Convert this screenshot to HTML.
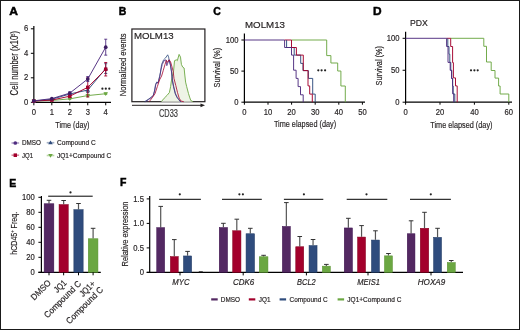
<!DOCTYPE html>
<html><head><meta charset="utf-8"><style>
html,body{margin:0;padding:0;background:#fff;}
.wrap{position:relative;width:520px;height:330px;overflow:hidden;box-sizing:border-box;border:1px solid #1a1a1a;background:#fff;}
svg{position:absolute;left:-1px;top:-1px;will-change:transform;}
text{font-family:"Liberation Sans", sans-serif;stroke:#231f20;stroke-width:0.18px;paint-order:stroke;}
</style></head><body><div class="wrap">
<svg width="520" height="330" viewBox="0 0 520 330">
<text x="9.3" y="14.8" font-size="10.5" text-anchor="start" font-weight="bold" font-style="normal" fill="#000" textLength="8.7" lengthAdjust="spacingAndGlyphs" style="stroke:#000;stroke-width:0.45px">A</text>
<text x="118.8" y="15.1" font-size="10.5" text-anchor="start" font-weight="bold" font-style="normal" fill="#000" style="stroke:#000;stroke-width:0.45px">B</text>
<text x="213.2" y="15" font-size="10.5" text-anchor="start" font-weight="bold" font-style="normal" fill="#000" style="stroke:#000;stroke-width:0.45px">C</text>
<text x="373" y="15" font-size="10.5" text-anchor="start" font-weight="bold" font-style="normal" fill="#000" textLength="8.6" lengthAdjust="spacingAndGlyphs" style="stroke:#000;stroke-width:0.45px">D</text>
<text x="9.3" y="186.8" font-size="10.5" text-anchor="start" font-weight="bold" font-style="normal" fill="#000" style="stroke:#000;stroke-width:0.45px">E</text>
<text x="120" y="185.5" font-size="10.5" text-anchor="start" font-weight="bold" font-style="normal" fill="#000" style="stroke:#000;stroke-width:0.45px">F</text>
<line x1="33.85" y1="26" x2="33.85" y2="102.8" stroke="#000" stroke-width="1.2"/>
<line x1="33.25" y1="102.3" x2="111" y2="102.3" stroke="#000" stroke-width="1.2"/>
<line x1="30.85" y1="102.3" x2="33.85" y2="102.3" stroke="#000" stroke-width="1"/>
<text x="28.2" y="104.8" font-size="8.6" text-anchor="end" font-weight="normal" font-style="normal" fill="#231f20" textLength="4.26" lengthAdjust="spacingAndGlyphs" >0</text>
<line x1="30.85" y1="77.8" x2="33.85" y2="77.8" stroke="#000" stroke-width="1"/>
<text x="28.2" y="80.3" font-size="8.6" text-anchor="end" font-weight="normal" font-style="normal" fill="#231f20" textLength="4.26" lengthAdjust="spacingAndGlyphs" >2</text>
<line x1="30.85" y1="53.3" x2="33.85" y2="53.3" stroke="#000" stroke-width="1"/>
<text x="28.2" y="55.8" font-size="8.6" text-anchor="end" font-weight="normal" font-style="normal" fill="#231f20" textLength="4.26" lengthAdjust="spacingAndGlyphs" >4</text>
<line x1="30.85" y1="28.799999999999997" x2="33.85" y2="28.799999999999997" stroke="#000" stroke-width="1"/>
<text x="28.2" y="31.299999999999997" font-size="8.6" text-anchor="end" font-weight="normal" font-style="normal" fill="#231f20" textLength="4.26" lengthAdjust="spacingAndGlyphs" >6</text>
<line x1="33.85" y1="102.3" x2="33.85" y2="105.3" stroke="#000" stroke-width="1"/>
<text x="33.85" y="115.1" font-size="8.6" text-anchor="middle" font-weight="normal" font-style="normal" fill="#231f20" textLength="4.26" lengthAdjust="spacingAndGlyphs" >0</text>
<line x1="51.82" y1="102.3" x2="51.82" y2="105.3" stroke="#000" stroke-width="1"/>
<text x="51.82" y="115.1" font-size="8.6" text-anchor="middle" font-weight="normal" font-style="normal" fill="#231f20" textLength="4.26" lengthAdjust="spacingAndGlyphs" >1</text>
<line x1="69.78999999999999" y1="102.3" x2="69.78999999999999" y2="105.3" stroke="#000" stroke-width="1"/>
<text x="69.78999999999999" y="115.1" font-size="8.6" text-anchor="middle" font-weight="normal" font-style="normal" fill="#231f20" textLength="4.26" lengthAdjust="spacingAndGlyphs" >2</text>
<line x1="87.75999999999999" y1="102.3" x2="87.75999999999999" y2="105.3" stroke="#000" stroke-width="1"/>
<text x="87.75999999999999" y="115.1" font-size="8.6" text-anchor="middle" font-weight="normal" font-style="normal" fill="#231f20" textLength="4.26" lengthAdjust="spacingAndGlyphs" >3</text>
<line x1="105.72999999999999" y1="102.3" x2="105.72999999999999" y2="105.3" stroke="#000" stroke-width="1"/>
<text x="105.72999999999999" y="115.1" font-size="8.6" text-anchor="middle" font-weight="normal" font-style="normal" fill="#231f20" textLength="4.26" lengthAdjust="spacingAndGlyphs" >4</text>
<text x="72.4" y="128.1" font-size="9.9" text-anchor="middle" font-weight="normal" font-style="normal" fill="#231f20" textLength="34.2" lengthAdjust="spacingAndGlyphs" >Time (day)</text>
<text transform="translate(18.1,63.2) rotate(-90)" font-size="10" text-anchor="middle" fill="#231f20" textLength="64.5" lengthAdjust="spacingAndGlyphs">Cell number (x10<tspan font-size="5" dy="-3">5</tspan><tspan dy="3">)</tspan></text>
<polyline points="33.85,101.075 51.82,100.46249999999999 69.78999999999999,98.86999999999999 87.75999999999999,95.5625 105.72999999999999,93.725" stroke="#6ba742" stroke-width="0.95" fill="none" stroke-linejoin="miter"/>
<polygon points="33.85,103.275 31.55,99.47500000000001 36.15,99.47500000000001" fill="#6ba742"/>
<polygon points="51.82,102.6625 49.52,98.8625 54.12,98.8625" fill="#6ba742"/>
<line x1="69.78999999999999" y1="98.2575" x2="69.78999999999999" y2="99.48249999999999" stroke="#6ba742" stroke-width="0.9"/>
<line x1="68.28999999999999" y1="98.2575" x2="71.28999999999999" y2="98.2575" stroke="#6ba742" stroke-width="0.9"/>
<line x1="68.28999999999999" y1="99.48249999999999" x2="71.28999999999999" y2="99.48249999999999" stroke="#6ba742" stroke-width="0.9"/>
<polygon points="69.78999999999999,101.07 67.49,97.27 72.08999999999999,97.27" fill="#6ba742"/>
<line x1="87.75999999999999" y1="94.3375" x2="87.75999999999999" y2="96.7875" stroke="#6ba742" stroke-width="0.9"/>
<line x1="86.25999999999999" y1="94.3375" x2="89.25999999999999" y2="94.3375" stroke="#6ba742" stroke-width="0.9"/>
<line x1="86.25999999999999" y1="96.7875" x2="89.25999999999999" y2="96.7875" stroke="#6ba742" stroke-width="0.9"/>
<polygon points="87.75999999999999,97.7625 85.46,93.9625 90.05999999999999,93.9625" fill="#6ba742"/>
<line x1="105.72999999999999" y1="93.1125" x2="105.72999999999999" y2="94.33749999999999" stroke="#6ba742" stroke-width="0.9"/>
<line x1="104.22999999999999" y1="93.1125" x2="107.22999999999999" y2="93.1125" stroke="#6ba742" stroke-width="0.9"/>
<line x1="104.22999999999999" y1="94.33749999999999" x2="107.22999999999999" y2="94.33749999999999" stroke="#6ba742" stroke-width="0.9"/>
<polygon points="105.72999999999999,95.925 103.42999999999999,92.125 108.02999999999999,92.125" fill="#6ba742"/>
<polyline points="33.85,101.075 51.82,99.2375 69.78999999999999,93.97 87.75999999999999,90.05 105.72999999999999,68.6125" stroke="#2f4c7d" stroke-width="0.95" fill="none" stroke-linejoin="miter"/>
<polygon points="33.85,98.875 31.55,102.675 36.15,102.675" fill="#2f4c7d"/>
<polygon points="51.82,97.0375 49.52,100.83749999999999 54.12,100.83749999999999" fill="#2f4c7d"/>
<line x1="69.78999999999999" y1="93.3575" x2="69.78999999999999" y2="94.5825" stroke="#2f4c7d" stroke-width="0.9"/>
<line x1="68.28999999999999" y1="93.3575" x2="71.28999999999999" y2="93.3575" stroke="#2f4c7d" stroke-width="0.9"/>
<line x1="68.28999999999999" y1="94.5825" x2="71.28999999999999" y2="94.5825" stroke="#2f4c7d" stroke-width="0.9"/>
<polygon points="69.78999999999999,91.77 67.49,95.57 72.08999999999999,95.57" fill="#2f4c7d"/>
<line x1="87.75999999999999" y1="87.6" x2="87.75999999999999" y2="92.5" stroke="#2f4c7d" stroke-width="0.9"/>
<line x1="86.25999999999999" y1="87.6" x2="89.25999999999999" y2="87.6" stroke="#2f4c7d" stroke-width="0.9"/>
<line x1="86.25999999999999" y1="92.5" x2="89.25999999999999" y2="92.5" stroke="#2f4c7d" stroke-width="0.9"/>
<polygon points="87.75999999999999,87.85 85.46,91.64999999999999 90.05999999999999,91.64999999999999" fill="#2f4c7d"/>
<line x1="105.72999999999999" y1="63.7125" x2="105.72999999999999" y2="73.5125" stroke="#2f4c7d" stroke-width="0.9"/>
<line x1="104.22999999999999" y1="63.7125" x2="107.22999999999999" y2="63.7125" stroke="#2f4c7d" stroke-width="0.9"/>
<line x1="104.22999999999999" y1="73.5125" x2="107.22999999999999" y2="73.5125" stroke="#2f4c7d" stroke-width="0.9"/>
<polygon points="105.72999999999999,66.4125 103.42999999999999,70.21249999999999 108.02999999999999,70.21249999999999" fill="#2f4c7d"/>
<polyline points="33.85,101.075 51.82,100.095 69.78999999999999,96.175 87.75999999999999,87.35499999999999 105.72999999999999,69.225" stroke="#a3002c" stroke-width="0.95" fill="none" stroke-linejoin="miter"/>
<rect x="32.1" y="99.325" width="3.5" height="3.5" fill="#a3002c"/>
<rect x="50.07" y="98.345" width="3.5" height="3.5" fill="#a3002c"/>
<line x1="69.78999999999999" y1="94.705" x2="69.78999999999999" y2="97.645" stroke="#a3002c" stroke-width="0.9"/>
<line x1="68.28999999999999" y1="94.705" x2="71.28999999999999" y2="94.705" stroke="#a3002c" stroke-width="0.9"/>
<line x1="68.28999999999999" y1="97.645" x2="71.28999999999999" y2="97.645" stroke="#a3002c" stroke-width="0.9"/>
<rect x="68.03999999999999" y="94.425" width="3.5" height="3.5" fill="#a3002c"/>
<line x1="87.75999999999999" y1="77.79999999999998" x2="87.75999999999999" y2="96.91" stroke="#a3002c" stroke-width="0.9"/>
<line x1="86.25999999999999" y1="77.79999999999998" x2="89.25999999999999" y2="77.79999999999998" stroke="#a3002c" stroke-width="0.9"/>
<line x1="86.25999999999999" y1="96.91" x2="89.25999999999999" y2="96.91" stroke="#a3002c" stroke-width="0.9"/>
<rect x="86.00999999999999" y="85.60499999999999" width="3.5" height="3.5" fill="#a3002c"/>
<line x1="105.72999999999999" y1="62.4875" x2="105.72999999999999" y2="75.96249999999999" stroke="#a3002c" stroke-width="0.9"/>
<line x1="104.22999999999999" y1="62.4875" x2="107.22999999999999" y2="62.4875" stroke="#a3002c" stroke-width="0.9"/>
<line x1="104.22999999999999" y1="75.96249999999999" x2="107.22999999999999" y2="75.96249999999999" stroke="#a3002c" stroke-width="0.9"/>
<rect x="103.97999999999999" y="67.475" width="3.5" height="3.5" fill="#a3002c"/>
<polyline points="33.85,100.83 51.82,98.625 69.78999999999999,93.1125 87.75999999999999,79.025 105.72999999999999,47.175" stroke="#4f2c80" stroke-width="0.95" fill="none" stroke-linejoin="miter"/>
<circle cx="33.85" cy="100.83" r="1.85" fill="#3d1c63"/>
<circle cx="51.82" cy="98.625" r="1.85" fill="#3d1c63"/>
<line x1="69.78999999999999" y1="91.8875" x2="69.78999999999999" y2="94.33749999999999" stroke="#4f2c80" stroke-width="0.9"/>
<line x1="68.28999999999999" y1="91.8875" x2="71.28999999999999" y2="91.8875" stroke="#4f2c80" stroke-width="0.9"/>
<line x1="68.28999999999999" y1="94.33749999999999" x2="71.28999999999999" y2="94.33749999999999" stroke="#4f2c80" stroke-width="0.9"/>
<circle cx="69.78999999999999" cy="93.1125" r="1.85" fill="#3d1c63"/>
<line x1="87.75999999999999" y1="76.575" x2="87.75999999999999" y2="81.47500000000001" stroke="#4f2c80" stroke-width="0.9"/>
<line x1="86.25999999999999" y1="76.575" x2="89.25999999999999" y2="76.575" stroke="#4f2c80" stroke-width="0.9"/>
<line x1="86.25999999999999" y1="81.47500000000001" x2="89.25999999999999" y2="81.47500000000001" stroke="#4f2c80" stroke-width="0.9"/>
<circle cx="87.75999999999999" cy="79.025" r="1.85" fill="#3d1c63"/>
<line x1="105.72999999999999" y1="39.2125" x2="105.72999999999999" y2="55.137499999999996" stroke="#4f2c80" stroke-width="0.9"/>
<line x1="104.22999999999999" y1="39.2125" x2="107.22999999999999" y2="39.2125" stroke="#4f2c80" stroke-width="0.9"/>
<line x1="104.22999999999999" y1="55.137499999999996" x2="107.22999999999999" y2="55.137499999999996" stroke="#4f2c80" stroke-width="0.9"/>
<circle cx="105.72999999999999" cy="47.175" r="1.85" fill="#3d1c63"/>
<circle cx="102.4" cy="88.7" r="1.1" fill="#222"/>
<circle cx="105.8" cy="88.7" r="1.1" fill="#222"/>
<circle cx="109.3" cy="88.7" r="1.1" fill="#222"/>
<line x1="11.5" y1="143" x2="19.1" y2="143" stroke="#4f2c80" stroke-width="1.6" stroke-opacity="0.45"/>
<circle cx="15.3" cy="143" r="1.85" fill="#4f2c80"/>
<text x="22" y="145.2" font-size="7" text-anchor="start" font-weight="normal" font-style="normal" fill="#231f20" textLength="19" lengthAdjust="spacingAndGlyphs" >DMSO</text>
<line x1="46.7" y1="142.7" x2="54.3" y2="142.7" stroke="#2f4c7d" stroke-width="1.6" stroke-opacity="0.45"/>
<polygon points="50.5,140.5 48.2,144.29999999999998 52.8,144.29999999999998" fill="#2f4c7d"/>
<text x="57" y="145.2" font-size="7" text-anchor="start" font-weight="normal" font-style="normal" fill="#231f20" textLength="38.7" lengthAdjust="spacingAndGlyphs" >Compound C</text>
<line x1="11.5" y1="155.2" x2="19.1" y2="155.2" stroke="#a3002c" stroke-width="1.6" stroke-opacity="0.45"/>
<rect x="13.600000000000001" y="153.39999999999998" width="3.4" height="3.6" fill="#a3002c"/>
<text x="22" y="158" font-size="7" text-anchor="start" font-weight="normal" font-style="normal" fill="#231f20" textLength="11" lengthAdjust="spacingAndGlyphs" >JQ1</text>
<line x1="46.7" y1="155.5" x2="54.3" y2="155.5" stroke="#6ba742" stroke-width="1.6" stroke-opacity="0.45"/>
<polygon points="50.5,157.7 48.2,153.9 52.8,153.9" fill="#6ba742"/>
<text x="57" y="158" font-size="7" text-anchor="start" font-weight="normal" font-style="normal" fill="#231f20" textLength="54.2" lengthAdjust="spacingAndGlyphs" >JQ1+Compound C</text>
<rect x="131.9" y="29" width="73" height="72.7" fill="none" stroke="#231f20" stroke-width="1.2"/>
<text x="133.9" y="39.1" font-size="9.8" text-anchor="start" font-weight="normal" font-style="normal" fill="#231f20" textLength="39.8" lengthAdjust="spacingAndGlyphs" >MOLM13</text>
<line x1="132" y1="105.3" x2="202" y2="105.3" stroke="#231f20" stroke-width="1"/>
<polygon points="205,105.3 200.5,103.4 200.5,107.2" fill="#231f20"/>
<text x="168.5" y="116.5" font-size="10.4" text-anchor="middle" font-weight="normal" font-style="normal" fill="#3a3a3a" textLength="19" lengthAdjust="spacingAndGlyphs" >CD33</text>
<text transform="translate(126.3,64.85) rotate(-90)" font-size="8.9" text-anchor="middle" fill="#231f20" textLength="62.8" lengthAdjust="spacingAndGlyphs">Normalized events</text>
<polygon points="161.3,101.7 164.2,98.2 167.1,95.3 169.4,92.5 170.6,86.7 171.4,80.9 172.3,76.3 173.6,70.7 174.5,60.7 176.4,59.8 177.3,60.7 179.1,54.4 180.5,57.1 181.4,64.4 182.7,67.1 184.1,68 184.8,75 185.6,82.1 186.7,86.7 188.5,93.6 189.6,97.1 190.8,100.5 193.1,101.7" fill="#eef4e6" stroke="none"/>
<polyline points="161.3,101.7 164.2,98.2 167.1,95.3 169.4,92.5 170.6,86.7 171.4,80.9 172.3,76.3 173.6,70.7 174.5,60.7 176.4,59.8 177.3,60.7 179.1,54.4 180.5,57.1 181.4,64.4 182.7,67.1 184.1,68 184.8,75 185.6,82.1 186.7,86.7 188.5,93.6 189.6,97.1 190.8,100.5 193.1,101.7" stroke="#6ba742" stroke-width="0.9" fill="none" stroke-linejoin="miter"/>
<polyline points="144.6,101.7 148.1,99.4 151.5,97.1 153.3,95.3 154.4,91.3 155.6,84.4 156.7,82.1 157.9,82.7 158.5,80.9 159.6,76.3 160.5,72 161.6,64.4 163.6,59.8 165.5,58 167.7,54.8 168.6,57.1 169.1,59.8 170.5,65.3 171.5,72 172.3,80.9 173.5,86.7 175.2,93.6 176.9,97.1 178.7,99.4 179.8,101.1 181,101.7" stroke="#2f4c7d" stroke-width="0.8" fill="none" stroke-linejoin="miter"/>
<polyline points="145.5,101.7 148.5,99.6 151.5,97.4 153.5,95 154.8,90 155.8,84.5 156.9,82.4 158,83.2 158.8,80.5 160,75.5 160.9,70 162.3,64.4 164.1,60.7 165.9,59.8 166.8,65.7 168,62.5 169.1,59.8 170.2,64 171.4,70.7 172.5,80 173.8,87 175.5,93.8 177.2,97.5 179,99.8 180.5,101.7" stroke="#4f2c80" stroke-width="0.8" fill="none" stroke-linejoin="miter"/>
<polyline points="149.2,101.7 152.7,97.1 155,93.6 157.3,86.7 159.6,79.8 161.6,76 163.2,70.7 165,64.4 166.4,60.3 167.3,62.5 169.1,59.8 170.5,61.6 171.8,66.2 173.2,71.6 174,78.6 175.8,85.5 177.5,92.5 179.2,98.2 181,101.1 183.8,101.7" stroke="#a3002c" stroke-width="0.8" fill="none" stroke-linejoin="miter"/>
<line x1="244.4" y1="33.6" x2="244.4" y2="102.8" stroke="#000" stroke-width="1.2"/>
<line x1="243.8" y1="102.2" x2="365" y2="102.2" stroke="#000" stroke-width="1.2"/>
<line x1="241.4" y1="102.2" x2="244.4" y2="102.2" stroke="#000" stroke-width="1"/>
<text x="238.5" y="104.8" font-size="8.6" text-anchor="end" font-weight="normal" font-style="normal" fill="#231f20" textLength="4.26" lengthAdjust="spacingAndGlyphs" >0</text>
<line x1="241.4" y1="71.1" x2="244.4" y2="71.1" stroke="#000" stroke-width="1"/>
<text x="238.5" y="73.69999999999999" font-size="8.6" text-anchor="end" font-weight="normal" font-style="normal" fill="#231f20" textLength="8.51" lengthAdjust="spacingAndGlyphs" >50</text>
<line x1="241.4" y1="40.0" x2="244.4" y2="40.0" stroke="#000" stroke-width="1"/>
<text x="238.5" y="42.6" font-size="8.6" text-anchor="end" font-weight="normal" font-style="normal" fill="#231f20" textLength="12.77" lengthAdjust="spacingAndGlyphs" >100</text>
<line x1="244.4" y1="102.2" x2="244.4" y2="104.7" stroke="#000" stroke-width="1"/>
<text x="244.4" y="114.7" font-size="8.6" text-anchor="middle" font-weight="normal" font-style="normal" fill="#231f20" textLength="4.26" lengthAdjust="spacingAndGlyphs" >0</text>
<line x1="268.0" y1="102.2" x2="268.0" y2="104.7" stroke="#000" stroke-width="1"/>
<text x="268.0" y="114.7" font-size="8.6" text-anchor="middle" font-weight="normal" font-style="normal" fill="#231f20" textLength="8.51" lengthAdjust="spacingAndGlyphs" >10</text>
<line x1="291.6" y1="102.2" x2="291.6" y2="104.7" stroke="#000" stroke-width="1"/>
<text x="291.6" y="114.7" font-size="8.6" text-anchor="middle" font-weight="normal" font-style="normal" fill="#231f20" textLength="8.51" lengthAdjust="spacingAndGlyphs" >20</text>
<line x1="315.2" y1="102.2" x2="315.2" y2="104.7" stroke="#000" stroke-width="1"/>
<text x="315.2" y="114.7" font-size="8.6" text-anchor="middle" font-weight="normal" font-style="normal" fill="#231f20" textLength="8.51" lengthAdjust="spacingAndGlyphs" >30</text>
<line x1="338.8" y1="102.2" x2="338.8" y2="104.7" stroke="#000" stroke-width="1"/>
<text x="338.8" y="114.7" font-size="8.6" text-anchor="middle" font-weight="normal" font-style="normal" fill="#231f20" textLength="8.51" lengthAdjust="spacingAndGlyphs" >40</text>
<line x1="362.4" y1="102.2" x2="362.4" y2="104.7" stroke="#000" stroke-width="1"/>
<text x="362.4" y="114.7" font-size="8.6" text-anchor="middle" font-weight="normal" font-style="normal" fill="#231f20" textLength="8.51" lengthAdjust="spacingAndGlyphs" >50</text>
<text x="305" y="127.1" font-size="9.2" text-anchor="middle" font-weight="normal" font-style="normal" fill="#231f20" textLength="62.2" lengthAdjust="spacingAndGlyphs" >Time elapsed (day)</text>
<text x="245" y="28" font-size="9.8" text-anchor="start" font-weight="normal" font-style="normal" fill="#231f20" textLength="40" lengthAdjust="spacingAndGlyphs" >MOLM13</text>
<text transform="translate(220.1,67.65) rotate(-90)" font-size="9.6" text-anchor="middle" fill="#231f20" textLength="39.7" lengthAdjust="spacingAndGlyphs">Survival (%)</text>
<circle cx="318.3" cy="70.3" r="1.1" fill="#222"/>
<circle cx="321.6" cy="70.3" r="1.1" fill="#222"/>
<circle cx="325.1" cy="70.3" r="1.1" fill="#222"/>
<line x1="244.4" y1="40.0" x2="284.6" y2="40.0" stroke="#4f2c80" stroke-width="0.95"/>
<line x1="284.6" y1="40.0" x2="291.5" y2="40.0" stroke="#a3002c" stroke-width="0.95"/>
<line x1="291.5" y1="40.0" x2="326.7" y2="40.0" stroke="#6ba742" stroke-width="0.95"/>
<polyline points="326.7,40.0 326.7,55.6 330.9,55.6 330.9,63 337.7,63 337.7,71 340.9,71 340.9,86 345.3,86 345.3,102.2" stroke="#6ba742" stroke-width="0.95" fill="none" stroke-linejoin="miter"/>
<polyline points="286.6,40.0 286.6,47.5 294.2,47.5 294.2,55.1 300.7,55.1 300.7,63.4 303,63.4 303,70.6 308.4,70.6 308.4,78.4 312.7,78.4 312.7,94.1 315.2,94.1 315.2,102.2" stroke="#2f4c7d" stroke-width="0.95" fill="none" stroke-linejoin="miter"/>
<polyline points="291.5,40.0 291.5,47.5 296.4,47.5 296.4,55.1 303.3,55.1 303.3,70.6 308,70.6 308,85.9 309.7,85.9 309.7,94.1 312.3,94.1 312.3,102.2" stroke="#a3002c" stroke-width="0.95" fill="none" stroke-linejoin="miter"/>
<polyline points="284.6,40.0 284.6,47.5 291.5,47.5 291.5,55.1 293.6,55.1 293.6,70.2 296.1,70.2 296.1,78.4 298.1,78.4 298.1,86.6 300.5,86.6 300.5,94.8 303.2,94.8 303.2,102.2" stroke="#4f2c80" stroke-width="0.95" fill="none" stroke-linejoin="miter"/>
<line x1="405.6" y1="31.8" x2="405.6" y2="102.8" stroke="#000" stroke-width="1.2"/>
<line x1="405.0" y1="102.2" x2="512" y2="102.2" stroke="#000" stroke-width="1.2"/>
<line x1="402.6" y1="102.2" x2="405.6" y2="102.2" stroke="#000" stroke-width="1"/>
<text x="399.6" y="104.60000000000001" font-size="8.6" text-anchor="end" font-weight="normal" font-style="normal" fill="#231f20" textLength="4.26" lengthAdjust="spacingAndGlyphs" >0</text>
<line x1="402.6" y1="70.25" x2="405.6" y2="70.25" stroke="#000" stroke-width="1"/>
<text x="399.6" y="72.65" font-size="8.6" text-anchor="end" font-weight="normal" font-style="normal" fill="#231f20" textLength="8.51" lengthAdjust="spacingAndGlyphs" >50</text>
<line x1="402.6" y1="38.3" x2="405.6" y2="38.3" stroke="#000" stroke-width="1"/>
<text x="399.6" y="40.699999999999996" font-size="8.6" text-anchor="end" font-weight="normal" font-style="normal" fill="#231f20" textLength="12.77" lengthAdjust="spacingAndGlyphs" >100</text>
<line x1="405.6" y1="102.2" x2="405.6" y2="104.7" stroke="#000" stroke-width="1"/>
<text x="405.6" y="114.7" font-size="8.6" text-anchor="middle" font-weight="normal" font-style="normal" fill="#231f20" textLength="4.26" lengthAdjust="spacingAndGlyphs" >0</text>
<line x1="440.0" y1="102.2" x2="440.0" y2="104.7" stroke="#000" stroke-width="1"/>
<text x="440.0" y="114.7" font-size="8.6" text-anchor="middle" font-weight="normal" font-style="normal" fill="#231f20" textLength="8.51" lengthAdjust="spacingAndGlyphs" >20</text>
<line x1="474.40000000000003" y1="102.2" x2="474.40000000000003" y2="104.7" stroke="#000" stroke-width="1"/>
<text x="474.40000000000003" y="114.7" font-size="8.6" text-anchor="middle" font-weight="normal" font-style="normal" fill="#231f20" textLength="8.51" lengthAdjust="spacingAndGlyphs" >40</text>
<line x1="508.8" y1="102.2" x2="508.8" y2="104.7" stroke="#000" stroke-width="1"/>
<text x="508.8" y="114.7" font-size="8.6" text-anchor="middle" font-weight="normal" font-style="normal" fill="#231f20" textLength="8.51" lengthAdjust="spacingAndGlyphs" >60</text>
<text x="461.4" y="128" font-size="9.2" text-anchor="middle" font-weight="normal" font-style="normal" fill="#231f20" textLength="62.2" lengthAdjust="spacingAndGlyphs" >Time elapsed (day)</text>
<text x="409.9" y="26" font-size="9.8" text-anchor="start" font-weight="normal" font-style="normal" fill="#231f20" textLength="17.9" lengthAdjust="spacingAndGlyphs" >PDX</text>
<text transform="translate(382,65.8) rotate(-90)" font-size="9.6" text-anchor="middle" fill="#231f20" textLength="39.4" lengthAdjust="spacingAndGlyphs">Survival (%)</text>
<circle cx="471" cy="70.3" r="1.1" fill="#222"/>
<circle cx="474.4" cy="70.3" r="1.1" fill="#222"/>
<circle cx="477.7" cy="70.3" r="1.1" fill="#222"/>
<line x1="405.6" y1="38.3" x2="446.6" y2="38.3" stroke="#4f2c80" stroke-width="0.95"/>
<line x1="446.6" y1="38.3" x2="450.7" y2="38.3" stroke="#a3002c" stroke-width="0.95"/>
<line x1="450.7" y1="38.3" x2="483.8" y2="38.3" stroke="#6ba742" stroke-width="0.95"/>
<polyline points="483.8,38.3 483.8,46.3 486.5,46.3 486.5,62 491.2,62 491.2,70.5 495,70.5 495,78.1 498.6,78.1 498.6,86 500.1,86 500.1,94 508.8,94 508.8,102.2" stroke="#6ba742" stroke-width="0.95" fill="none" stroke-linejoin="miter"/>
<polyline points="447.8,38.3 447.8,46.5 449,46.5 449,54.2 449.8,54.2 449.8,62.4 450.8,62.4 450.8,70.3 451.8,70.3 451.8,78.5 452.5,78.5 452.5,86 453.2,86 453.2,94 454.8,94 454.8,102.2" stroke="#2f4c7d" stroke-width="0.95" fill="none" stroke-linejoin="miter"/>
<polyline points="450.7,38.3 450.7,46.5 452.6,46.5 452.6,62.6 453.4,62.6 453.4,77.9 455.5,77.9 455.5,85.9 457.2,85.9 457.2,102.2" stroke="#a3002c" stroke-width="0.95" fill="none" stroke-linejoin="miter"/>
<polyline points="446.6,38.3 446.6,46.5 448,46.5 448,62.4 450.2,62.4 450.2,70.3 451.5,70.3 451.5,78.5 452.7,78.5 452.7,93.8 453.7,93.8 453.7,102.2" stroke="#4f2c80" stroke-width="0.95" fill="none" stroke-linejoin="miter"/>
<line x1="41.4" y1="196" x2="41.4" y2="272.90000000000003" stroke="#000" stroke-width="1.2"/>
<line x1="38.4" y1="272.3" x2="100.8" y2="272.3" stroke="#000" stroke-width="1.2"/>
<line x1="38.4" y1="272.3" x2="41.4" y2="272.3" stroke="#000" stroke-width="1"/>
<text x="34.8" y="275.2" font-size="8.6" text-anchor="end" font-weight="normal" font-style="normal" fill="#231f20" textLength="4.26" lengthAdjust="spacingAndGlyphs" >0</text>
<line x1="38.4" y1="257.3" x2="41.4" y2="257.3" stroke="#000" stroke-width="1"/>
<text x="34.8" y="260.2" font-size="8.6" text-anchor="end" font-weight="normal" font-style="normal" fill="#231f20" textLength="8.51" lengthAdjust="spacingAndGlyphs" >20</text>
<line x1="38.4" y1="242.3" x2="41.4" y2="242.3" stroke="#000" stroke-width="1"/>
<text x="34.8" y="245.20000000000002" font-size="8.6" text-anchor="end" font-weight="normal" font-style="normal" fill="#231f20" textLength="8.51" lengthAdjust="spacingAndGlyphs" >40</text>
<line x1="38.4" y1="227.3" x2="41.4" y2="227.3" stroke="#000" stroke-width="1"/>
<text x="34.8" y="230.20000000000002" font-size="8.6" text-anchor="end" font-weight="normal" font-style="normal" fill="#231f20" textLength="8.51" lengthAdjust="spacingAndGlyphs" >60</text>
<line x1="38.4" y1="212.3" x2="41.4" y2="212.3" stroke="#000" stroke-width="1"/>
<text x="34.8" y="215.20000000000002" font-size="8.6" text-anchor="end" font-weight="normal" font-style="normal" fill="#231f20" textLength="8.51" lengthAdjust="spacingAndGlyphs" >80</text>
<line x1="38.4" y1="197.3" x2="41.4" y2="197.3" stroke="#000" stroke-width="1"/>
<text x="34.8" y="200.20000000000002" font-size="8.6" text-anchor="end" font-weight="normal" font-style="normal" fill="#231f20" textLength="12.77" lengthAdjust="spacingAndGlyphs" >100</text>
<line x1="49.0" y1="200.3" x2="49.0" y2="203.5" stroke="#555" stroke-width="1.2"/>
<line x1="46.7" y1="200.3" x2="51.3" y2="200.3" stroke="#333" stroke-width="1"/>
<rect x="44.15" y="203.75" width="9.700000000000003" height="68.55000000000001" fill="#532862" stroke="#3a0e4c" stroke-width="0.5"/>
<line x1="49.0" y1="272.3" x2="49.0" y2="275.3" stroke="#000" stroke-width="1"/>
<line x1="63.65" y1="200.5" x2="63.65" y2="204.3" stroke="#555" stroke-width="1.2"/>
<line x1="61.35" y1="200.5" x2="65.95" y2="200.5" stroke="#333" stroke-width="1"/>
<rect x="59.05" y="204.55" width="9.200000000000003" height="67.75" fill="#a3002c" stroke="#85001f" stroke-width="0.5"/>
<line x1="63.65" y1="272.3" x2="63.65" y2="275.3" stroke="#000" stroke-width="1"/>
<line x1="78.5" y1="203.5" x2="78.5" y2="209.4" stroke="#555" stroke-width="1.2"/>
<line x1="76.2" y1="203.5" x2="80.8" y2="203.5" stroke="#333" stroke-width="1"/>
<rect x="73.85" y="209.65" width="9.300000000000011" height="62.650000000000006" fill="#2f4c7d" stroke="#1e3962" stroke-width="0.5"/>
<line x1="78.5" y1="272.3" x2="78.5" y2="275.3" stroke="#000" stroke-width="1"/>
<line x1="93.1" y1="228.3" x2="93.1" y2="238.5" stroke="#555" stroke-width="1.2"/>
<line x1="90.8" y1="228.3" x2="95.39999999999999" y2="228.3" stroke="#333" stroke-width="1"/>
<rect x="88.25" y="238.75" width="9.700000000000003" height="33.55000000000001" fill="#6ba742" stroke="#56902f" stroke-width="0.5"/>
<line x1="93.1" y1="272.3" x2="93.1" y2="275.3" stroke="#000" stroke-width="1"/>
<line x1="48.2" y1="196.2" x2="92.7" y2="196.2" stroke="#000" stroke-width="1"/>
<circle cx="70.5" cy="192.4" r="1.1" fill="#222"/>
<text transform="translate(16.8,233.3) rotate(-90)" font-size="8.9" text-anchor="middle" fill="#231f20" textLength="43" lengthAdjust="spacingAndGlyphs">hCD45<tspan font-size="5" dy="-3">+</tspan><tspan dy="3"> Freq.</tspan></text>
<text transform="translate(49.8,281.7) rotate(-45)" font-size="8.8" text-anchor="end" fill="#231f20" textLength="24.5" lengthAdjust="spacingAndGlyphs" dy="2.5">DMSO</text>
<text transform="translate(65.4,281.7) rotate(-45)" font-size="8.8" text-anchor="end" fill="#231f20" textLength="14" lengthAdjust="spacingAndGlyphs" dy="2.5">JQ1</text>
<text transform="translate(80,282.5) rotate(-45)" font-size="8.8" text-anchor="end" fill="#231f20" textLength="48.5" lengthAdjust="spacingAndGlyphs" dy="2.5">Compound C</text>
<text transform="translate(94.2,282.5) rotate(-45)" font-size="8.8" text-anchor="end" fill="#231f20" textLength="18.5" lengthAdjust="spacingAndGlyphs" dy="2.5">JQ1+</text>
<text transform="translate(102,288.5) rotate(-45)" font-size="8.8" text-anchor="end" fill="#231f20" textLength="48.5" lengthAdjust="spacingAndGlyphs" dy="2.5">Compound C</text>
<line x1="149.7" y1="196" x2="149.7" y2="273.0" stroke="#000" stroke-width="1.2"/>
<line x1="146.7" y1="272.4" x2="463" y2="272.4" stroke="#000" stroke-width="1.2"/>
<line x1="146.7" y1="272.4" x2="149.7" y2="272.4" stroke="#000" stroke-width="1"/>
<text x="143.9" y="275.0" font-size="8.6" text-anchor="end" font-weight="normal" font-style="normal" fill="#231f20" textLength="4.26" lengthAdjust="spacingAndGlyphs" >0</text>
<line x1="146.7" y1="247.89999999999998" x2="149.7" y2="247.89999999999998" stroke="#000" stroke-width="1"/>
<text x="143.9" y="250.49999999999997" font-size="8.6" text-anchor="end" font-weight="normal" font-style="normal" fill="#231f20" textLength="10.64" lengthAdjust="spacingAndGlyphs" >0.5</text>
<line x1="146.7" y1="223.39999999999998" x2="149.7" y2="223.39999999999998" stroke="#000" stroke-width="1"/>
<text x="143.9" y="225.99999999999997" font-size="8.6" text-anchor="end" font-weight="normal" font-style="normal" fill="#231f20" textLength="10.64" lengthAdjust="spacingAndGlyphs" >1.0</text>
<line x1="146.7" y1="198.89999999999998" x2="149.7" y2="198.89999999999998" stroke="#000" stroke-width="1"/>
<text x="143.9" y="201.49999999999997" font-size="8.6" text-anchor="end" font-weight="normal" font-style="normal" fill="#231f20" textLength="10.64" lengthAdjust="spacingAndGlyphs" >1.5</text>
<line x1="160.7" y1="206.4" x2="160.7" y2="227.4" stroke="#555" stroke-width="1.2"/>
<line x1="158.39999999999998" y1="206.4" x2="163.0" y2="206.4" stroke="#333" stroke-width="1"/>
<rect x="156.75" y="227.65" width="7.900000000000006" height="44.74999999999997" fill="#532862" stroke="#3a0e4c" stroke-width="0.5"/>
<line x1="174.3" y1="239.6" x2="174.3" y2="256.3" stroke="#555" stroke-width="1.2"/>
<line x1="172.0" y1="239.6" x2="176.60000000000002" y2="239.6" stroke="#333" stroke-width="1"/>
<rect x="170.35" y="256.55" width="7.900000000000006" height="15.849999999999966" fill="#a3002c" stroke="#85001f" stroke-width="0.5"/>
<line x1="187.55" y1="251.4" x2="187.55" y2="255.7" stroke="#555" stroke-width="1.2"/>
<line x1="185.25" y1="251.4" x2="189.85000000000002" y2="251.4" stroke="#333" stroke-width="1"/>
<rect x="183.45" y="255.95" width="8.200000000000017" height="16.44999999999999" fill="#2f4c7d" stroke="#1e3962" stroke-width="0.5"/>
<line x1="198.8" y1="271.6" x2="202.8" y2="271.6" stroke="#444" stroke-width="1"/>
<line x1="180" y1="272.4" x2="180" y2="275.4" stroke="#000" stroke-width="1"/>
<text x="180.9" y="285.4" font-size="8.3" text-anchor="middle" font-weight="normal" font-style="italic" fill="#231f20" textLength="17.2" lengthAdjust="spacingAndGlyphs" >MYC</text>
<line x1="159.2" y1="199.3" x2="200.9" y2="199.3" stroke="#000" stroke-width="1"/>
<circle cx="179.8" cy="194.3" r="1.1" fill="#222"/>
<line x1="223.4" y1="223.3" x2="223.4" y2="227.3" stroke="#555" stroke-width="1.2"/>
<line x1="221.1" y1="223.3" x2="225.70000000000002" y2="223.3" stroke="#333" stroke-width="1"/>
<rect x="219.25" y="227.55" width="8.300000000000011" height="44.849999999999966" fill="#532862" stroke="#3a0e4c" stroke-width="0.5"/>
<line x1="236.8" y1="219.2" x2="236.8" y2="230.5" stroke="#555" stroke-width="1.2"/>
<line x1="234.5" y1="219.2" x2="239.10000000000002" y2="219.2" stroke="#333" stroke-width="1"/>
<rect x="232.65" y="230.75" width="8.299999999999983" height="41.64999999999998" fill="#a3002c" stroke="#85001f" stroke-width="0.5"/>
<line x1="250.3" y1="228.3" x2="250.3" y2="233.5" stroke="#555" stroke-width="1.2"/>
<line x1="248.0" y1="228.3" x2="252.60000000000002" y2="228.3" stroke="#333" stroke-width="1"/>
<rect x="246.05" y="233.75" width="8.5" height="38.64999999999998" fill="#2f4c7d" stroke="#1e3962" stroke-width="0.5"/>
<line x1="263.6" y1="255.3" x2="263.6" y2="256.5" stroke="#555" stroke-width="1.2"/>
<line x1="261.3" y1="255.3" x2="265.90000000000003" y2="255.3" stroke="#333" stroke-width="1"/>
<rect x="259.25" y="256.75" width="8.699999999999989" height="15.649999999999977" fill="#6ba742" stroke="#56902f" stroke-width="0.5"/>
<line x1="243.2" y1="272.4" x2="243.2" y2="275.4" stroke="#000" stroke-width="1"/>
<text x="243.6" y="285.4" font-size="8.3" text-anchor="middle" font-weight="normal" font-style="italic" fill="#231f20" textLength="21.3" lengthAdjust="spacingAndGlyphs" >CDK6</text>
<line x1="222" y1="199.3" x2="261.8" y2="199.3" stroke="#000" stroke-width="1"/>
<circle cx="239.4" cy="194.3" r="1.1" fill="#222"/>
<circle cx="242.9" cy="194.3" r="1.1" fill="#222"/>
<line x1="286.35" y1="202.6" x2="286.35" y2="226.2" stroke="#555" stroke-width="1.2"/>
<line x1="284.05" y1="202.6" x2="288.65000000000003" y2="202.6" stroke="#333" stroke-width="1"/>
<rect x="282.35" y="226.45" width="8.0" height="45.94999999999999" fill="#532862" stroke="#3a0e4c" stroke-width="0.5"/>
<line x1="299.75" y1="236.5" x2="299.75" y2="246.5" stroke="#555" stroke-width="1.2"/>
<line x1="297.45" y1="236.5" x2="302.05" y2="236.5" stroke="#333" stroke-width="1"/>
<rect x="295.75" y="246.75" width="8.0" height="25.649999999999977" fill="#a3002c" stroke="#85001f" stroke-width="0.5"/>
<line x1="313.05" y1="239.5" x2="313.05" y2="245.3" stroke="#555" stroke-width="1.2"/>
<line x1="310.75" y1="239.5" x2="315.35" y2="239.5" stroke="#333" stroke-width="1"/>
<rect x="309.05" y="245.55" width="8.0" height="26.849999999999966" fill="#2f4c7d" stroke="#1e3962" stroke-width="0.5"/>
<line x1="326.35" y1="264.4" x2="326.35" y2="265.9" stroke="#555" stroke-width="1.2"/>
<line x1="324.05" y1="264.4" x2="328.65000000000003" y2="264.4" stroke="#333" stroke-width="1"/>
<rect x="322.35" y="266.15" width="8.0" height="6.25" fill="#6ba742" stroke="#56902f" stroke-width="0.5"/>
<line x1="306.4" y1="272.4" x2="306.4" y2="275.4" stroke="#000" stroke-width="1"/>
<text x="306.4" y="285.4" font-size="8.3" text-anchor="middle" font-weight="normal" font-style="italic" fill="#231f20" textLength="18.6" lengthAdjust="spacingAndGlyphs" >BCL2</text>
<line x1="283.9" y1="199.3" x2="323.3" y2="199.3" stroke="#000" stroke-width="1"/>
<circle cx="303.9" cy="194.3" r="1.1" fill="#222"/>
<line x1="348.35" y1="218.3" x2="348.35" y2="227.7" stroke="#555" stroke-width="1.2"/>
<line x1="346.05" y1="218.3" x2="350.65000000000003" y2="218.3" stroke="#333" stroke-width="1"/>
<rect x="344.25" y="227.95" width="8.199999999999989" height="44.44999999999999" fill="#532862" stroke="#3a0e4c" stroke-width="0.5"/>
<line x1="361.55" y1="225.6" x2="361.55" y2="236.8" stroke="#555" stroke-width="1.2"/>
<line x1="359.25" y1="225.6" x2="363.85" y2="225.6" stroke="#333" stroke-width="1"/>
<rect x="357.55" y="237.05" width="8.0" height="35.349999999999966" fill="#a3002c" stroke="#85001f" stroke-width="0.5"/>
<line x1="375.45" y1="230.8" x2="375.45" y2="239.8" stroke="#555" stroke-width="1.2"/>
<line x1="373.15" y1="230.8" x2="377.75" y2="230.8" stroke="#333" stroke-width="1"/>
<rect x="371.45" y="240.05" width="8.0" height="32.349999999999966" fill="#2f4c7d" stroke="#1e3962" stroke-width="0.5"/>
<line x1="388.45" y1="253.5" x2="388.45" y2="255.6" stroke="#555" stroke-width="1.2"/>
<line x1="386.15" y1="253.5" x2="390.75" y2="253.5" stroke="#333" stroke-width="1"/>
<rect x="384.45" y="255.85" width="8.0" height="16.549999999999983" fill="#6ba742" stroke="#56902f" stroke-width="0.5"/>
<line x1="368" y1="272.4" x2="368" y2="275.4" stroke="#000" stroke-width="1"/>
<text x="368.6" y="285.4" font-size="8.3" text-anchor="middle" font-weight="normal" font-style="italic" fill="#231f20" textLength="22.6" lengthAdjust="spacingAndGlyphs" >MEIS1</text>
<line x1="346.7" y1="199.3" x2="387.3" y2="199.3" stroke="#000" stroke-width="1"/>
<circle cx="366.5" cy="194.3" r="1.1" fill="#222"/>
<line x1="411.1" y1="220.8" x2="411.1" y2="233.5" stroke="#555" stroke-width="1.2"/>
<line x1="408.8" y1="220.8" x2="413.40000000000003" y2="220.8" stroke="#333" stroke-width="1"/>
<rect x="407.25" y="233.75" width="7.699999999999989" height="38.64999999999998" fill="#532862" stroke="#3a0e4c" stroke-width="0.5"/>
<line x1="424.5" y1="212.3" x2="424.5" y2="228" stroke="#555" stroke-width="1.2"/>
<line x1="422.2" y1="212.3" x2="426.8" y2="212.3" stroke="#333" stroke-width="1"/>
<rect x="420.25" y="228.25" width="8.5" height="44.14999999999998" fill="#a3002c" stroke="#85001f" stroke-width="0.5"/>
<line x1="437.55" y1="228.3" x2="437.55" y2="237.1" stroke="#555" stroke-width="1.2"/>
<line x1="435.25" y1="228.3" x2="439.85" y2="228.3" stroke="#333" stroke-width="1"/>
<rect x="433.55" y="237.35" width="8.0" height="35.04999999999998" fill="#2f4c7d" stroke="#1e3962" stroke-width="0.5"/>
<line x1="451.25" y1="260.5" x2="451.25" y2="262.3" stroke="#555" stroke-width="1.2"/>
<line x1="448.95" y1="260.5" x2="453.55" y2="260.5" stroke="#333" stroke-width="1"/>
<rect x="447.25" y="262.55" width="8.0" height="9.849999999999966" fill="#6ba742" stroke="#56902f" stroke-width="0.5"/>
<line x1="431" y1="272.4" x2="431" y2="275.4" stroke="#000" stroke-width="1"/>
<text x="431.5" y="285.4" font-size="8.3" text-anchor="middle" font-weight="normal" font-style="italic" fill="#231f20" textLength="27.5" lengthAdjust="spacingAndGlyphs" >HOXA9</text>
<line x1="410" y1="199.3" x2="450.9" y2="199.3" stroke="#000" stroke-width="1"/>
<circle cx="430.8" cy="194.3" r="1.1" fill="#222"/>
<text transform="translate(128.3,234) rotate(-90)" font-size="8.5" text-anchor="middle" fill="#231f20" textLength="65" lengthAdjust="spacingAndGlyphs">Relative expression</text>
<rect x="211.2" y="298.3" width="6.5" height="2.2" fill="#532862"/>
<text x="220.8" y="301.8" font-size="7" text-anchor="start" font-weight="normal" font-style="normal" fill="#231f20" textLength="19.2" lengthAdjust="spacingAndGlyphs" >DMSO</text>
<rect x="248.8" y="298.3" width="6.5" height="2.2" fill="#a3002c"/>
<text x="258.8" y="301.8" font-size="7" text-anchor="start" font-weight="normal" font-style="normal" fill="#231f20" textLength="11.6" lengthAdjust="spacingAndGlyphs" >JQ1</text>
<rect x="279.6" y="298.3" width="6.5" height="2.2" fill="#2f4c7d"/>
<text x="289.6" y="301.8" font-size="7" text-anchor="start" font-weight="normal" font-style="normal" fill="#231f20" textLength="38.1" lengthAdjust="spacingAndGlyphs" >Compound C</text>
<rect x="337.6" y="298.3" width="6.5" height="2.2" fill="#6ba742"/>
<text x="347.3" y="301.8" font-size="7" text-anchor="start" font-weight="normal" font-style="normal" fill="#231f20" textLength="54.2" lengthAdjust="spacingAndGlyphs" >JQ1+Compound C</text>
</svg></div></body></html>
